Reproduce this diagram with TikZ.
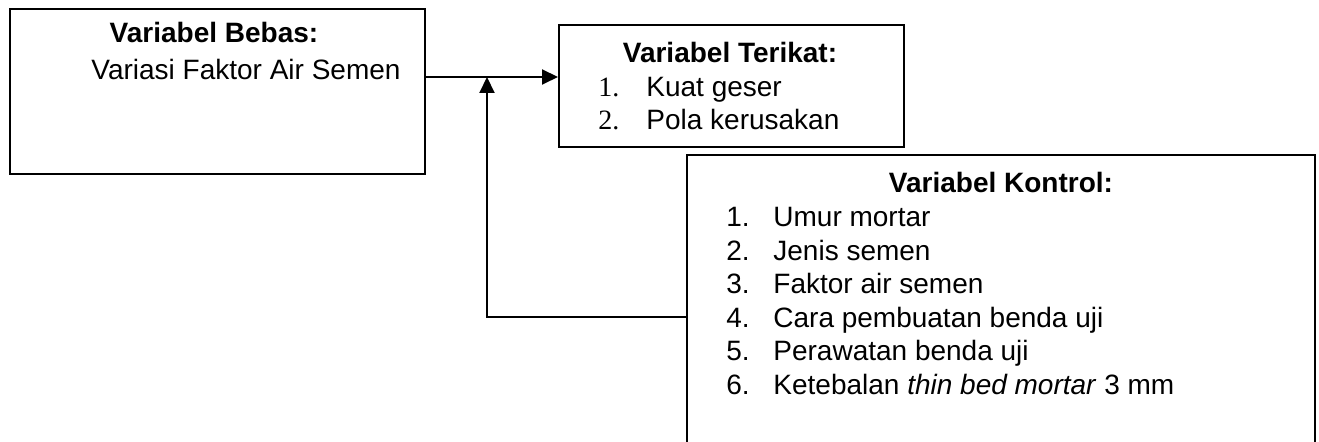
\documentclass[tikz,border=0pt]{standalone}
\usepackage{fontspec}
\setmainfont{Liberation Sans}
\newfontfamily\numfont{Liberation Serif}
\usetikzlibrary{arrows.meta}
\begin{document}
\begin{tikzpicture}[x=0.5pt,y=-0.5pt,
  box/.style={draw,line width=1pt,rectangle,inner sep=0pt,anchor=north west},
  txt/.style={inner sep=0pt,font=\fontsize{14}{16}\selectfont},
  ttl/.style={txt,font=\fontsize{14}{16}\selectfont\bfseries,anchor=base},
  itm/.style={txt,anchor=base west},
  conn/.style={line width=1pt},
  tip/.style={-{Triangle[length=8pt,width=7.5pt]}}]
\useasboundingbox (0,0) rectangle (1319,442);
\clip (0,0) rectangle (1319,442);
% boxes
\node[box,minimum width=207.5pt,minimum height=82.5pt] (b1) at (9,8) {};
\node[box,minimum width=172.5pt,minimum height=61pt] (b2) at (558,24) {};
\node[box,minimum width=314pt,minimum height=158pt] (b3) at (686,154) {};
% box 1 text
\node[ttl] (t1) at (214,43) {Variabel Bebas:};
\node[itm] (t1a) at (91,80) {Variasi Faktor Air Semen};
% box 2 text
\node[ttl] (t2) at (730,63) {Variabel Terikat:};
\node[itm,font=\fontsize{14}{16}\selectfont\numfont] (n21) at (598,97) {1.};
\node[itm] (t21) at (646,97) {Kuat geser};
\node[itm,font=\fontsize{14}{16}\selectfont\numfont] (n22) at (598,130) {2.};
\node[itm] (t22) at (646,130) {Pola kerusakan};
% box 3 text
\node[ttl] (t3) at (1001,193) {Variabel Kontrol:};
\node[itm] (n31) at (726,227) {1.};
\node[itm] (t31) at (773,227) {Umur mortar};
\node[itm] (n32) at (726,260.6) {2.};
\node[itm] (t32) at (773,260.6) {Jenis semen};
\node[itm] (n33) at (726,294) {3.};
\node[itm] (t33) at (773,294) {Faktor air semen};
\node[itm] (n34) at (726,328) {4.};
\node[itm] (t34) at (773,328) {Cara pembuatan benda uji};
\node[itm] (n35) at (726,361) {5.};
\node[itm] (t35) at (773,361) {Perawatan benda uji};
\node[itm] (n36) at (726,395) {6.};
\node[itm] (t36) at (773,395) {Ketebalan \textit{thin bed mortar} 3 mm};
% connectors
\coordinate (j) at (487,77);
\coordinate (k) at (487,317);
\draw[conn,tip] (j -| b1.east) -- (j -| b2.west);
\draw[conn,tip] (k -| b3.west) -- (k) -- (j);
\end{tikzpicture}
\end{document}
